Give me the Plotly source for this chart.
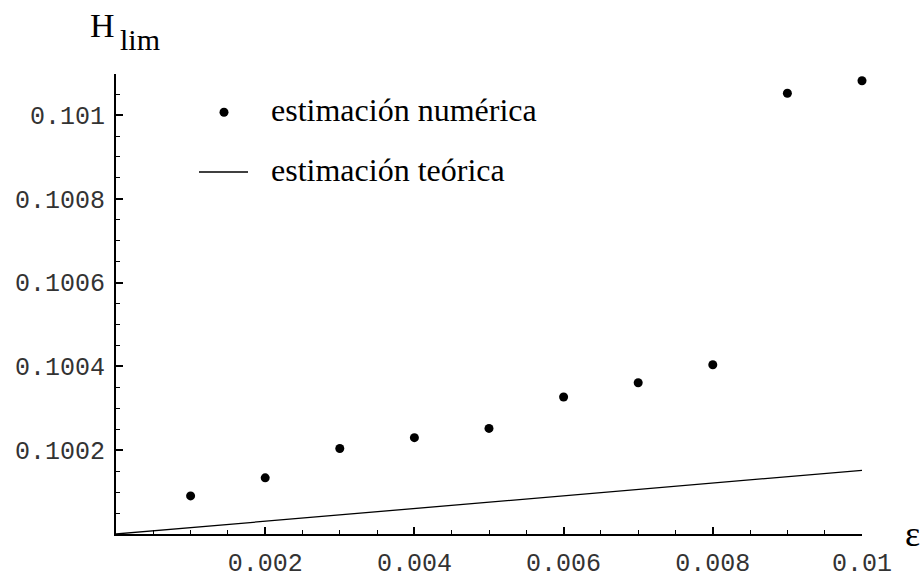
import plotly.graph_objects as go

# Numerical estimate of H_lim versus epsilon
eps_num = [0.001, 0.002, 0.003, 0.004, 0.005, 0.006, 0.007, 0.008, 0.009, 0.010]
h_num = [0.100091, 0.100134, 0.100204, 0.100230, 0.100252,
         0.100327, 0.100361, 0.100404, 0.101052, 0.101082]

# Theoretical (linear) estimate
eps_teo = [0.0, 0.010]
h_teo = [0.1000, 0.100152]

x_tick_vals = [0.002, 0.004, 0.006, 0.008, 0.010]
x_tick_text = ["0.002", "0.004", "0.006", "0.008", "0.01"]
y_tick_vals = [0.1002, 0.1004, 0.1006, 0.1008, 0.1010]
y_tick_text = ["0.1002", "0.1004", "0.1006", "0.1008", "0.101"]

legend_labels = ["estimación numérica", "estimación teórica"]

serif = "Liberation Serif, Times New Roman, serif"
mono = "Liberation Mono, Courier New, monospace"

fig = go.Figure()
fig.add_trace(go.Scatter(
    x=eps_num, y=h_num, mode="markers", name=legend_labels[0],
    marker=dict(color="black", size=9), cliponaxis=False, showlegend=False,
))
fig.add_trace(go.Scatter(
    x=eps_teo, y=h_teo, mode="lines", name=legend_labels[1],
    line=dict(color="black", width=1.3), cliponaxis=False, showlegend=False,
))

axis_common = dict(
    showline=True, linewidth=2, linecolor="black", mirror=False,
    ticks="inside", ticklen=7, tickwidth=1.5, tickcolor="black",
    showgrid=False, zeroline=False, automargin=False,
    tickfont=dict(family=mono, size=25, color="#333"),
)

fig.update_xaxes(
    range=[0, 0.0100001], tickmode="array", tickvals=x_tick_vals, ticktext=x_tick_text,
    minor=dict(tickmode="linear", tick0=0, dtick=0.0005, ticks="inside",
               ticklen=4, tickwidth=1, tickcolor="black"),
    ticklabelstandoff=5,
    **axis_common,
)
fig.update_yaxes(
    range=[0.1, 0.101098], tickmode="array", tickvals=y_tick_vals, ticktext=y_tick_text,
    minor=dict(tickmode="linear", tick0=0.1, dtick=0.00005, ticks="inside",
               ticklen=4, tickwidth=1, tickcolor="black"),
    ticklabelstandoff=4,
    **axis_common,
)

L, R, T, B = 116, 59, 74, 44
W, H = 921, 578
pw, ph = W - L - R, H - T - B


def px(x):
    return (x - L) / pw


def py(y):
    return (H - B - y) / ph


# Key: a dot and a short rule, each followed by its label
key_shapes = [
    dict(type="circle", xref="paper", yref="paper",
         x0=px(219.5), x1=px(228.5), y0=py(116.8), y1=py(107.8),
         fillcolor="black", line=dict(width=0)),
    dict(type="line", xref="paper", yref="paper",
         x0=px(199), x1=px(248), y0=py(172), y1=py(172),
         line=dict(color="black", width=1.3)),
]
key_text = [
    dict(text=legend_labels[0], x=px(269), y=py(110), xref="paper", yref="paper",
         xanchor="left", yanchor="middle", showarrow=False,
         font=dict(family=serif, size=32, color="black")),
    dict(text=legend_labels[1], x=px(269), y=py(170), xref="paper", yref="paper",
         xanchor="left", yanchor="middle", showarrow=False,
         font=dict(family=serif, size=32, color="black")),
]

fig.update_layout(
    width=W, height=H,
    margin=dict(l=L, r=R, t=T, b=B),
    paper_bgcolor="white", plot_bgcolor="white",
    showlegend=False,
    shapes=key_shapes,
    annotations=key_text + [
        dict(text="H", x=px(88), y=py(25), xref="paper", yref="paper",
             xanchor="left", yanchor="middle", showarrow=False,
             font=dict(family=serif, size=34, color="black")),
        dict(text="lim", x=px(118), y=py(39), xref="paper", yref="paper",
             xanchor="left", yanchor="middle", showarrow=False,
             font=dict(family=serif, size=30, color="black")),
        dict(text="ε", x=px(912), y=py(534), xref="paper", yref="paper",
             xanchor="center", yanchor="middle", showarrow=False,
             font=dict(family=serif, size=36, color="black")),
    ],
)

fig.write_html("out.html")
